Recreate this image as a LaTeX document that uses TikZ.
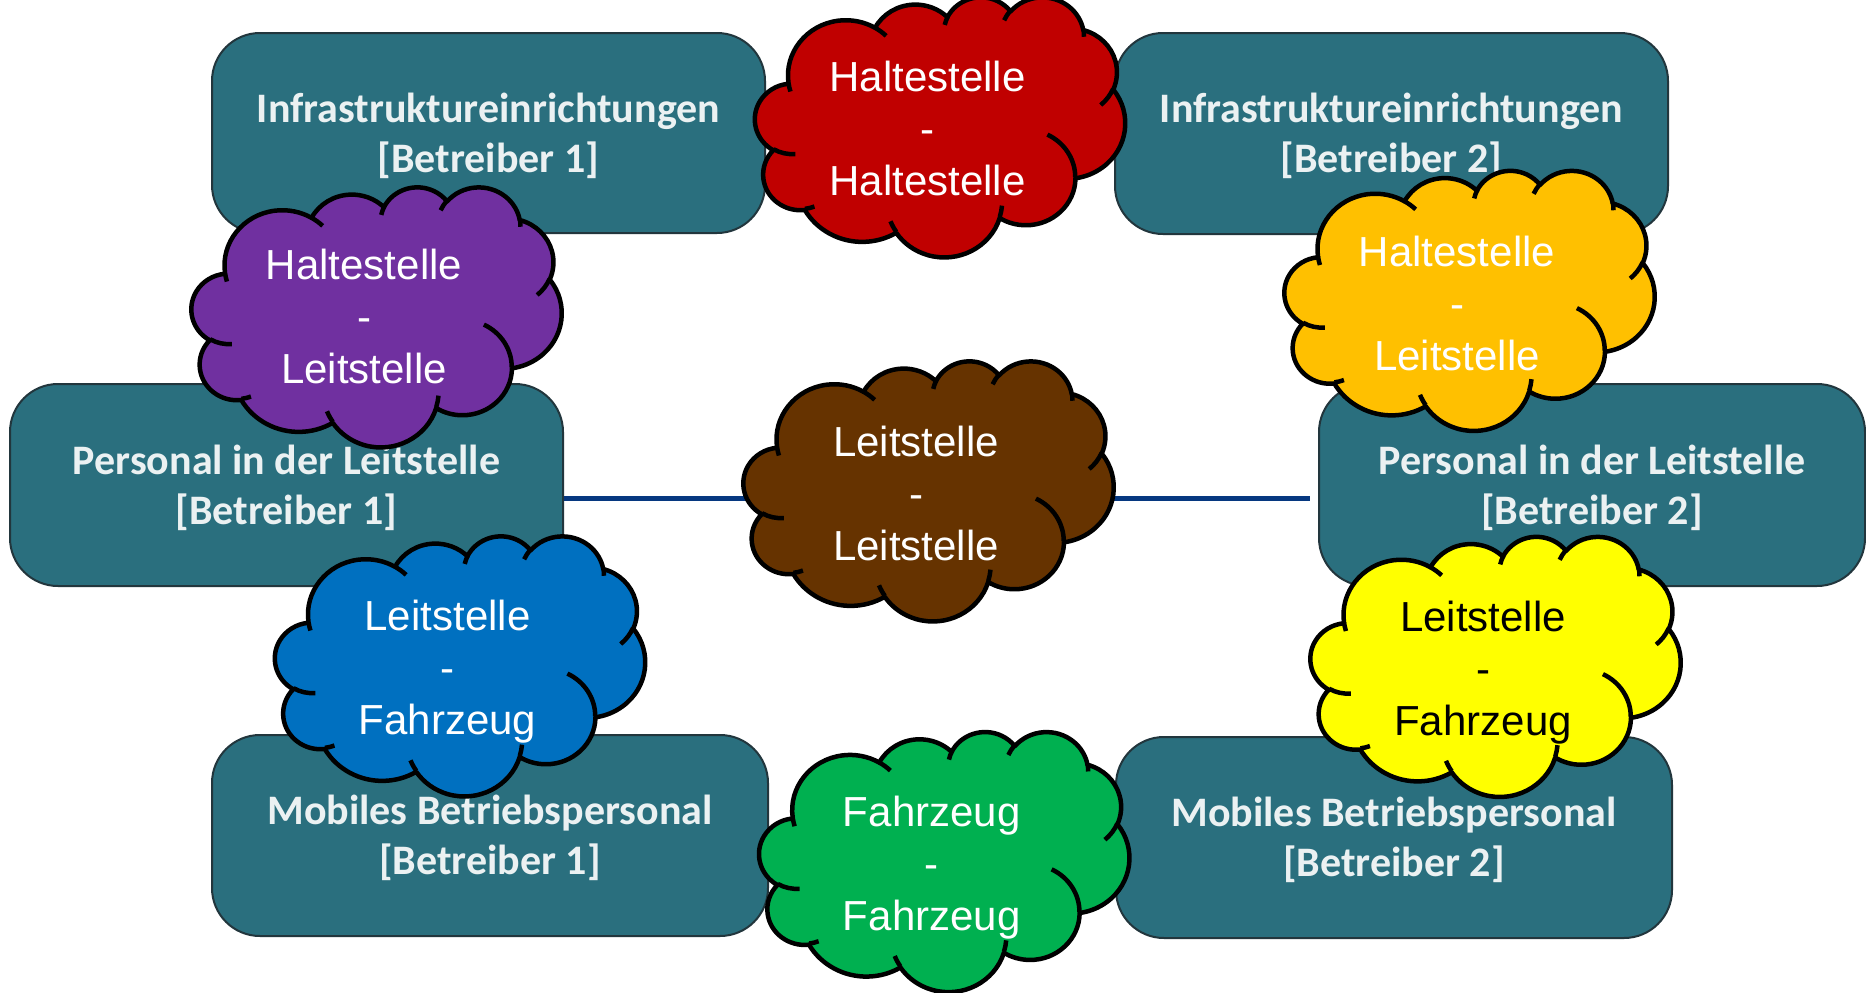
\documentclass[tikz,border=0pt]{standalone}
\usepackage{fontspec}
\usetikzlibrary{calc}
\newfontfamily\boxfont{Carlito}
\newfontfamily\cloudfont{Liberation Sans}
\definecolor{boxteal}{HTML}{2A6F7E}
\definecolor{boxedge}{HTML}{22363D}
\definecolor{boxtext}{HTML}{EBF1F2}
\definecolor{linkblue}{HTML}{063880}
\definecolor{cred}{HTML}{C00000}
\definecolor{cpurple}{HTML}{7030A0}
\definecolor{corange}{HTML}{FFC000}
\definecolor{cbrown}{HTML}{663300}
\definecolor{cblue}{HTML}{0070C0}
\definecolor{cyellow}{HTML}{FFFF00}
\definecolor{cgreen}{HTML}{00B050}
% arcs of the cloud outline (visual angles converted to parametric ones)
\newcommand\cldprep[5]{%
  \pgfmathsetmacro\cldtmpa{atan2((#2)*sin(#4),(#3)*cos(#4))}%
  \pgfmathsetmacro\cldtmpb{atan2((#2)*sin((#4)+(#5)),(#3)*cos((#4)+(#5)))}%
  \pgfmathsetmacro\cldtmpd{mod((\cldtmpb)-(\cldtmpa)+720,360)}%
  \expandafter\xdef\csname cld#1\endcsname{arc[x radius=#2pt, y radius=#3pt, start angle=\cldtmpa, delta angle=\cldtmpd]}%
}
\cldprep{A}{67.53}{91.90}{-190.48748}{123.78053}
\cldprep{B}{53.33}{72.67}{-144.10238}{89.94523}
\cldprep{C}{43.65}{59.45}{-145.80792}{99.72302}
\cldprep{D}{48.57}{65.95}{-130.98607}{117.24173}
\cldprep{E}{53.33}{72.73}{-78.70888}{109.02692}
\cldprep{F}{67.75}{92.20}{-46.26725}{130.269}
\cldprep{G}{57.85}{78.67}{0.62502}{114.03333}
\cldprep{H}{67.52}{92.15}{22.4516}{115.17255}
\cldprep{I}{77.20}{105.43}{66.24263}{75.71102}
\cldprep{J}{43.60}{59.18}{-274.94208}{146.73557}
\cldprep{K}{43.45}{59.45}{-246.8285}{152.51885}
\cldprep{a}{43.45}{59.45}{86.742}{26.4295}
\cldprep{b}{43.60}{59.18}{73.61047}{11.44747}
\cldprep{c}{67.52}{92.15}{137.62415}{14.0811}
\cldprep{d}{67.52}{92.15}{6.45327}{15.99835}
\cldprep{e}{57.85}{78.67}{-70.29235}{70.91737}
\cldprep{f}{53.33}{72.73}{30.31803}{27.7515}
\cldprep{g}{48.57}{65.95}{-13.74433}{14.8589}
\cldprep{h}{48.57}{65.95}{-149.18145}{18.19537}
\cldprep{i}{43.65}{59.45}{-163.49427}{17.68635}
\cldprep{j}{67.53}{91.90}{-66.70695}{12.31935}
\cldprep{k}{67.53}{91.90}{157.65435}{11.85817}
\def\cloudmain{(39.00,143.70) \cldA \cldB \cldC \cldD \cldE \cldF \cldG \cldH \cldI \cldJ \cldK -- cycle}
\def\cloudinner{(46.93,261.77) \clda (69.28,348.99) \cldb (164.78,390.90) \cldc
  (288.27,347.51) \cldd (341.29,229.54) \clde (417.98,153.54) \cldf
  (383.24,54.26) \cldg (290.78,39.52) \cldh (221.41,47.20) \cldi
  (140.00,51.92) \cldj (41.27,157.89) \cldk}
\newcommand\drawcloud[3]{%
  \begin{scope}[shift={(#1,#2)}, xscale=0.856481, yscale=0.601852]
    \filldraw[cloudedge, fill=#3] \cloudmain;
    \draw[cloudedge] \cloudinner;
  \end{scope}}
\tikzset{
  box/.style={rectangle, rounded corners=48pt, fill=boxteal, draw=boxedge,
    line width=2pt, text=boxtext, align=center, inner sep=0pt,
    font=\boxfont\bfseries\fontsize{42}{50}\selectfont},
  boxlabel/.style={text=boxtext, align=center, inner sep=0pt,
    font=\boxfont\bfseries\fontsize{42}{50}\selectfont},
  ctext/.style={font=\cloudfont\fontsize{42}{52}\selectfont, align=center,
    inner sep=0pt, text=white},
  link/.style={draw=linkblue, line width=5pt},
  cloudedge/.style={draw=black, line width=4.5pt, line join=round},
}
\begin{document}
\begin{tikzpicture}[x=1pt, y=1pt, yscale=-1]
\useasboundingbox[fill=white] (0,0) rectangle (1866,993);
% boxes
\node[box, minimum width=553pt, minimum height=200pt] (infra1) at (488.5,133) {};
\node[box, minimum width=553pt, minimum height=201pt] (infra2) at (1391.5,133.5) {};
\node[box, minimum width=553pt, minimum height=202pt] (pers1) at (286.5,485) {};
\node[box, minimum width=546pt, minimum height=202pt] (pers2) at (1592,485) {};
\node[box, minimum width=556pt, minimum height=201pt] (mob1) at (490,835.5) {};
\node[box, minimum width=556pt, minimum height=201pt] (mob2) at (1394,837.5) {};
\node[boxlabel] (infra1t) at ($(infra1.center)+(0,2.5)$) {Infrastruktureinrichtungen\\{[Betreiber 1]}};
\node[boxlabel] (infra2t) at ($(infra2.center)+(0,2.5)$) {Infrastruktureinrichtungen\\{[Betreiber 2]}};
\node[boxlabel] (pers1t) at ($(pers1.center)+(0,2.5)$) {Personal in der Leitstelle\\{[Betreiber 1]}};
\node[boxlabel] (pers2t) at ($(pers2.center)+(0,2.5)$) {Personal in der Leitstelle\\{[Betreiber 2]}};
\node[boxlabel] (mob1t) at ($(mob1.center)+(0,2.5)$) {Mobiles Betriebspersonal\\{[Betreiber 1]}};
\node[boxlabel] (mob2t) at ($(mob2.center)+(0,2.5)$) {Mobiles Betriebspersonal\\{[Betreiber 2]}};
% connector
\draw[link] ($(pers1.east)+(0,13)$) -- ($(pers2.west)+(-8,13)$);
% clouds
\drawcloud{755.1}{-3.5}{cred}
\drawcloud{191.6}{186.5}{cpurple}
\drawcloud{1284.6}{170}{corange}
\drawcloud{743.6}{360.5}{cbrown}
\drawcloud{275.1}{535.5}{cblue}
\drawcloud{1310.6}{536}{cyellow}
\drawcloud{759.3}{731.2}{cgreen}
% cloud texts
\node[ctext] (hh) at (927.5,128.5) {Haltestelle\\-\\Haltestelle};
\node[ctext] (hl1) at (364,316.5) {Haltestelle\\-\\Leitstelle};
\node[ctext] (hl2) at (1457,303) {Haltestelle\\-\\Leitstelle};
\node[ctext] (ll) at (916,493.5) {Leitstelle\\-\\Leitstelle};
\node[ctext] (lf1) at (447.5,672) {Leitstelle\\-\\Fahrzeug};
\node[ctext, text=black] (lf2) at (1483,672.5) {Leitstelle\\-\\Fahrzeug};
\node[ctext] (ff) at (931.7,868) {Fahrzeug\\-\\Fahrzeug};
\end{tikzpicture}
\end{document}
